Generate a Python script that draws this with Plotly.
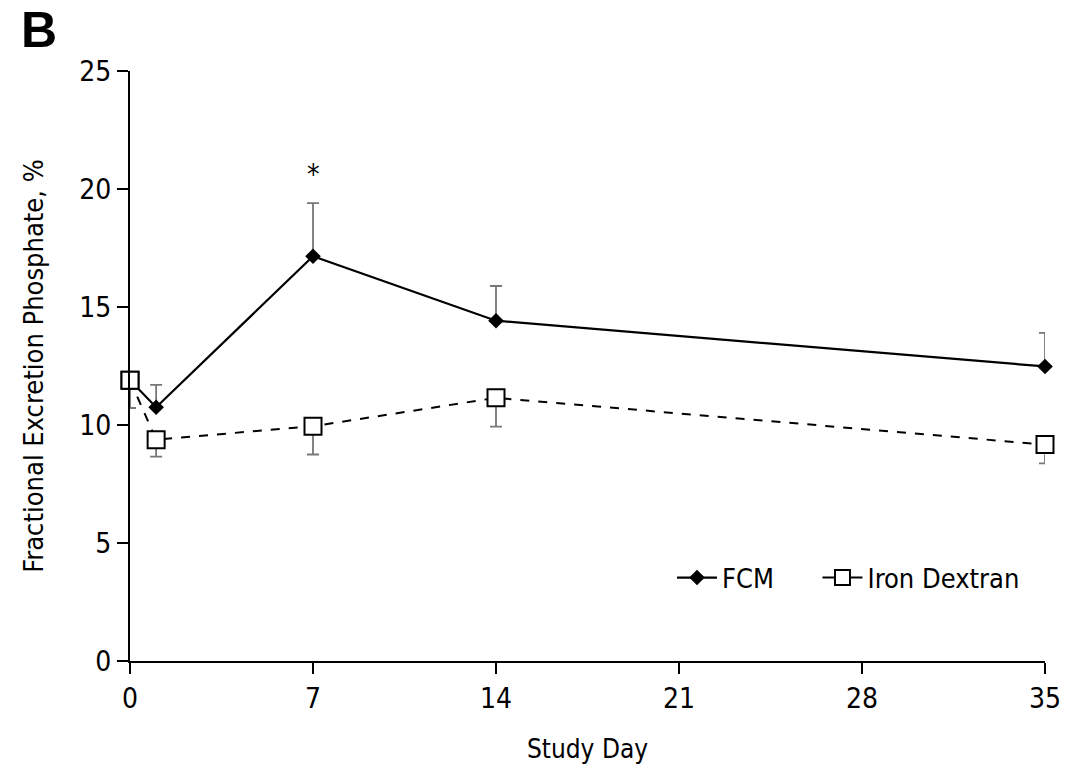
import plotly.graph_objects as go

# ---- data ----
days = [0, 1, 7, 14, 35]
fcm = [11.9, 10.75, 17.15, 14.42, 12.48]
fcm_err_up = [0.3, 0.95, 2.25, 1.47, 1.42]
iron = [11.9, 9.38, 9.95, 11.15, 9.17]
iron_err_down = [1.18, 0.72, 1.2, 1.22, 0.8]
x_ticks = [0, 7, 14, 21, 28, 35]
y_ticks = [0, 5, 10, 15, 20, 25]
series_names = ["FCM", "Iron Dextran"]

FONT = "Liberation Sans Narrow, DejaVu Sans Condensed, Arial Narrow, sans-serif"
NBSP = "\u00a0"

L, R, T, B = 130, 1045, 71, 661
def px(xp):
    return (xp - L) / (R - L)
def py(yp):
    return (B - yp) / (B - T)

fig = go.Figure()

fig.add_trace(go.Scatter(
    x=days, y=iron, name=series_names[1], mode="lines+markers", showlegend=False,
    line=dict(color="black", width=2, dash="dash"),
    marker=dict(symbol="square", size=17, color="white", line=dict(color="black", width=2)),
    error_y=dict(type="data", symmetric=False, array=[0] * len(days), arrayminus=iron_err_down,
                 color="#777777", thickness=1.8, width=6),
))
fig.add_trace(go.Scatter(
    x=days, y=fcm, name=series_names[0], mode="lines+markers", showlegend=False,
    line=dict(color="black", width=2.2),
    marker=dict(symbol="diamond", size=12, color="black"),
    error_y=dict(type="data", symmetric=False, array=fcm_err_up, arrayminus=[0] * len(days),
                 color="#777777", thickness=1.8, width=6),
))
# re-draw the day-0 iron marker on top so it covers the FCM point
fig.add_trace(go.Scatter(
    x=days[:1], y=iron[:1], mode="markers", showlegend=False, hoverinfo="skip",
    marker=dict(symbol="square", size=17, color="white", line=dict(color="black", width=2)),
))
# legend entries (solid short line with marker, as in the reference)
fig.add_trace(go.Scatter(
    x=[None], y=[None], name=series_names[0] + NBSP * 5, mode="lines+markers",
    line=dict(color="black", width=2.2),
    marker=dict(symbol="diamond", size=12, color="black"),
))
fig.add_trace(go.Scatter(
    x=[None], y=[None], name=series_names[1], mode="lines+markers",
    line=dict(color="black", width=2),
    marker=dict(symbol="square", size=15, color="white", line=dict(color="black", width=2)),
))

# ---- annotations ----
fig.add_annotation(x=7, y=20.6, text="*", showarrow=False, xref="x", yref="y",
                   font=dict(family=FONT, size=28, color="black"))
fig.add_annotation(x=px(19), y=py(0), xref="paper", yref="paper", xanchor="left", yanchor="top",
                   text="<b>B</b>", showarrow=False,
                   font=dict(family="Liberation Sans, Arial, sans-serif", size=50, color="black"))

fig.update_layout(
    width=1086, height=771,
    margin=dict(l=L, r=1086 - R, t=T, b=771 - B),
    paper_bgcolor="white", plot_bgcolor="rgba(0,0,0,0)",
    font=dict(family=FONT, color="black", size=25),
    showlegend=True,
    legend=dict(orientation="h", x=px(672), y=py(578), xanchor="left", yanchor="middle",
                bgcolor="rgba(0,0,0,0)", font=dict(size=27, family=FONT),
                itemwidth=40),
)
fig.update_xaxes(
    range=[0, 35], tickvals=x_ticks, ticktext=[str(v) for v in x_ticks],
    showgrid=False, zeroline=False, showline=True, linecolor="black", linewidth=2,
    ticks="outside", ticklen=11, tickwidth=2, tickcolor="black",
    tickfont=dict(size=28, family=FONT),
    title=dict(text="Study Day", font=dict(size=26, family=FONT), standoff=26),
)
fig.update_yaxes(
    range=[0, 25], tickvals=y_ticks, ticktext=[str(v) for v in y_ticks],
    showgrid=False, zeroline=False, showline=True, linecolor="black", linewidth=2,
    ticks="outside", ticklen=11, tickwidth=2, tickcolor="black",
    tickfont=dict(size=28, family=FONT),
    title=dict(text="Fractional Excretion Phosphate, %", font=dict(size=27, family=FONT), standoff=28),
)
fig.update_traces(cliponaxis=False)

fig.write_html("out.html", config={"displayModeBar": False},
               post_script="document.body.style.margin='0';")
